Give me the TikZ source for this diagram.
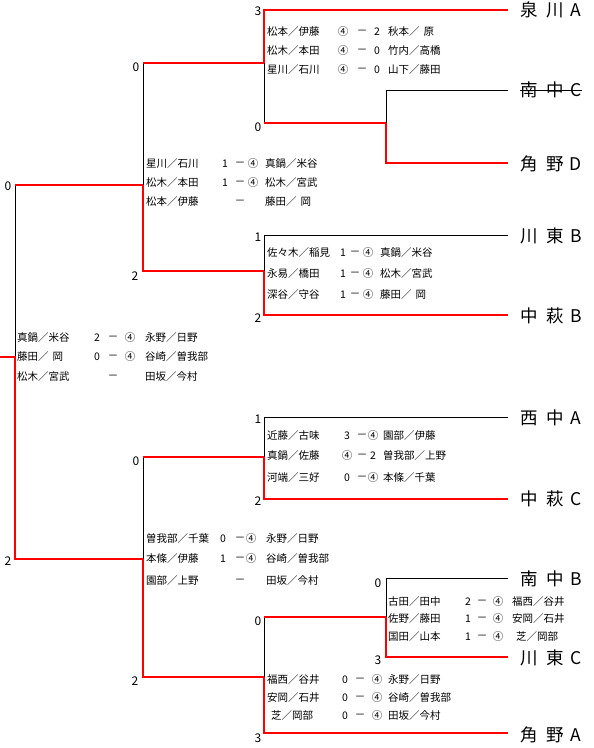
\documentclass[tikz,border=0pt]{standalone}
\usepackage{fontspec}
\setmainfont{Noto Sans CJK JP}
\definecolor{wred}{RGB}{255,0,0}
\tikzset{
  blk/.style={draw=black, line width=0.9pt},
  rln/.style={draw=wred, line width=2.6pt, line join=miter},
  txt/.style={font=\fontsize{10.5}{12}\selectfont, inner sep=0pt},
  lbl/.style={font=\fontsize{12}{14}\selectfont, inner sep=0pt},
  tm/.style={font=\fontsize{17.5}{20}\selectfont, inner sep=0pt},
}
\newcommand{\setcols}[4]{\def\ca{#1}\def\cb{#2}\def\cc{#3}\def\cd{#4}}
\newcommand{\mrow}[7]{%
  \node[txt,anchor=west] (#1-l) at (#2,#3) {#4};
  \node[txt] (#1-s) at (#2+\ca,#3) {#5};
  \node[txt] (#1-d) at (#2+\cb,#3) {－};
  \node[txt] (#1-t) at (#2+\cc,#3) {#6};
  \node[txt,anchor=west] (#1-r) at (#2+\cd,#3) {#7};
}
\newcommand{\team}[5]{%
  \node[tm] (#1-1) at (529,#2) {#3};
  \node[tm] (#1-2) at (555,#2) {#4};
  \node[tm] (#1-3) at (576,#2) {#5};
}
\newcommand{\hsp}{\hspace{4pt}}
\begin{document}
\begin{tikzpicture}[x=1pt,y=-1pt]
\fill[white] (0,0) rectangle (594,748);
\useasboundingbox (0,0) rectangle (594,748);
% ---------- junction coordinates
\coordinate (Fo) at (0,357);
\coordinate (F1) at (15,185); \coordinate (Fm) at (15,357); \coordinate (F2) at (15,559);
\coordinate (S1a) at (143,63); \coordinate (S1m) at (143,185); \coordinate (S1b) at (143,271);
\coordinate (Q1a) at (264,10); \coordinate (Q1m) at (264,63); \coordinate (Q1b) at (264,123);
\coordinate (Ra) at (386,90); \coordinate (Rm) at (386,123); \coordinate (Rb) at (386,163);
\coordinate (Q2a) at (264,235); \coordinate (Q2m) at (264,271); \coordinate (Q2b) at (264,315);
\coordinate (S2a) at (143,457); \coordinate (S2m) at (143,559); \coordinate (S2b) at (143,677);
\coordinate (Q3a) at (264,417); \coordinate (Q3m) at (264,457); \coordinate (Q3b) at (264,499);
\coordinate (Q4a) at (264,617); \coordinate (Q4m) at (264,677); \coordinate (Q4b) at (264,733);
\coordinate (R2a) at (386,578); \coordinate (R2m) at (386,617); \coordinate (R2b) at (386,657);
\coordinate (E1) at (508,10); \coordinate (E2) at (508,90); \coordinate (E3) at (508,163);
\coordinate (E4) at (508,235); \coordinate (E5) at (508,315); \coordinate (E6) at (508,417);
\coordinate (E7) at (508,499); \coordinate (E8) at (508,578); \coordinate (E9) at (508,657);
\coordinate (E10) at (508,733);
% ---------- black lines
\draw[blk] (F1) -- (Fm);
\draw[blk] (S1a) -- (S1m);
\draw[blk] (Q1m) -- (Q1b);
\draw[blk] (E2) -- (Ra) -- (Rm);
\draw[blk] (E4) -- (Q2a) -- (Q2m);
\draw[blk] (S2a) -- (S2m);
\draw[blk] (E6) -- (Q3a) -- (Q3m);
\draw[blk] (Q4a) -- (Q4m);
\draw[blk] (E8) -- (R2a) -- (R2m);
% ---------- red lines
\draw[rln] (Fo) -- (Fm) -- (F2) -- (S2m);
\draw[rln] (F1) -- (S1m);
\draw[rln] (S1m) -- (S1b) -- (Q2m);
\draw[rln] (S1a) -- (Q1m);
\draw[rln] (E1) -- (Q1a) -- (Q1m);
\draw[rln] (Q1b) -- (Rm);
\draw[rln] (Rm) -- (Rb) -- (E3);
\draw[rln] (Q2m) -- (Q2b) -- (E5);
\draw[rln] (S2a) -- (Q3m);
\draw[rln] (S2m) -- (S2b) -- (Q4m);
\draw[rln] (Q3m) -- (Q3b) -- (E7);
\draw[rln] (Q4a) -- (R2m);
\draw[rln] (Q4m) -- (Q4b) -- (E10);
\draw[rln] (R2m) -- (R2b) -- (E9);
% ---------- score labels
\node[lbl] (l1) at (8,186) {0};
\node[lbl] (l2) at (8,561) {2};
\node[lbl] (l3) at (136,67) {0};
\node[lbl] (l4) at (135,276) {2};
\node[lbl] (l5) at (258,11) {3};
\node[lbl] (l6) at (258,127) {0};
\node[lbl] (l7) at (258,237) {1};
\node[lbl] (l8) at (258,318) {2};
\node[lbl] (l9) at (136,461) {0};
\node[lbl] (l10) at (135,681) {2};
\node[lbl] (l11) at (258,419) {1};
\node[lbl] (l12) at (258,501) {2};
\node[lbl] (l13) at (258,621) {0};
\node[lbl] (l14) at (258,738) {3};
\node[lbl] (l15) at (378,583) {0};
\node[lbl] (l16) at (378,660) {3};
% ---------- team names
\team{tA}{10}{泉}{川}{A}
\team{tB}{90}{南}{中}{C}
\draw[blk] (tB-1.west) -- (tB-3.east);
\team{tC}{164}{角}{野}{D}
\team{tD}{236}{川}{東}{B}
\team{tE}{316}{中}{萩}{B}
\team{tF}{418}{西}{中}{A}
\team{tG}{499}{中}{萩}{C}
\team{tH}{579}{南}{中}{B}
\team{tI}{658}{川}{東}{C}
\team{tJ}{735}{角}{野}{A}
% ---------- match results
\setcols{76}{95}{110}{121}
\mrow{a1}{267}{32}{松本／伊藤}{④}{2}{秋本／\hsp 原}
\mrow{a2}{267}{51}{松木／本田}{④}{0}{竹内／高橋}
\mrow{a3}{267}{70}{星川／石川}{④}{0}{山下／藤田}
\setcols{79}{94}{107}{119}
\mrow{b1}{146}{164}{星川／石川}{1}{④}{真鍋／米谷}
\mrow{b2}{146}{183}{松木／本田}{1}{④}{松木／宮武}
\mrow{b3}{146}{202}{松本／伊藤}{}{}{藤田／\hsp 岡}
\setcols{76}{88}{101}{113}
\mrow{c1}{267}{253}{佐々木／稲見}{1}{④}{真鍋／米谷}
\mrow{c2}{267}{274}{永易／橋田}{1}{④}{松木／宮武}
\mrow{c3}{267}{295}{深谷／守谷}{1}{④}{藤田／\hsp 岡}
\setcols{80}{96}{113}{128}
\mrow{d1}{17}{338}{真鍋／米谷}{2}{④}{永野／日野}
\mrow{d2}{17}{357}{藤田／\hsp 岡}{0}{④}{谷崎／曽我部}
\mrow{d3}{17}{377}{松木／宮武}{}{}{田坂／今村}
\setcols{80}{95}{106}{116}
\mrow{e1}{267}{436}{近藤／古味}{3}{④}{園部／伊藤}
\mrow{e2}{267}{456}{真鍋／佐藤}{④}{2}{曽我部／上野}
\mrow{e3}{267}{478}{河端／三好}{0}{④}{本條／千葉}
\setcols{77}{94}{105}{120}
\mrow{f1}{146}{539}{曽我部／千葉}{0}{④}{永野／日野}
\mrow{f2}{146}{559}{本條／伊藤}{1}{④}{谷崎／曽我部}
\mrow{f3}{146}{581}{園部／上野}{}{}{田坂／今村}
\setcols{80}{94}{110}{124}
\mrow{g1}{388}{602}{古田／田中}{2}{④}{福西／谷井}
\mrow{g2}{388}{619}{佐野／藤田}{1}{④}{安岡／石井}
\mrow{g3}{388}{637}{国田／山本}{1}{④}{\hsp 芝／岡部}
\setcols{78}{93}{110}{121}
\mrow{h1}{267}{680}{福西／谷井}{0}{④}{永野／日野}
\mrow{h2}{267}{698}{安岡／石井}{0}{④}{谷崎／曽我部}
\mrow{h3}{267}{716}{\hsp 芝／岡部}{0}{④}{田坂／今村}
\end{tikzpicture}
\end{document}
